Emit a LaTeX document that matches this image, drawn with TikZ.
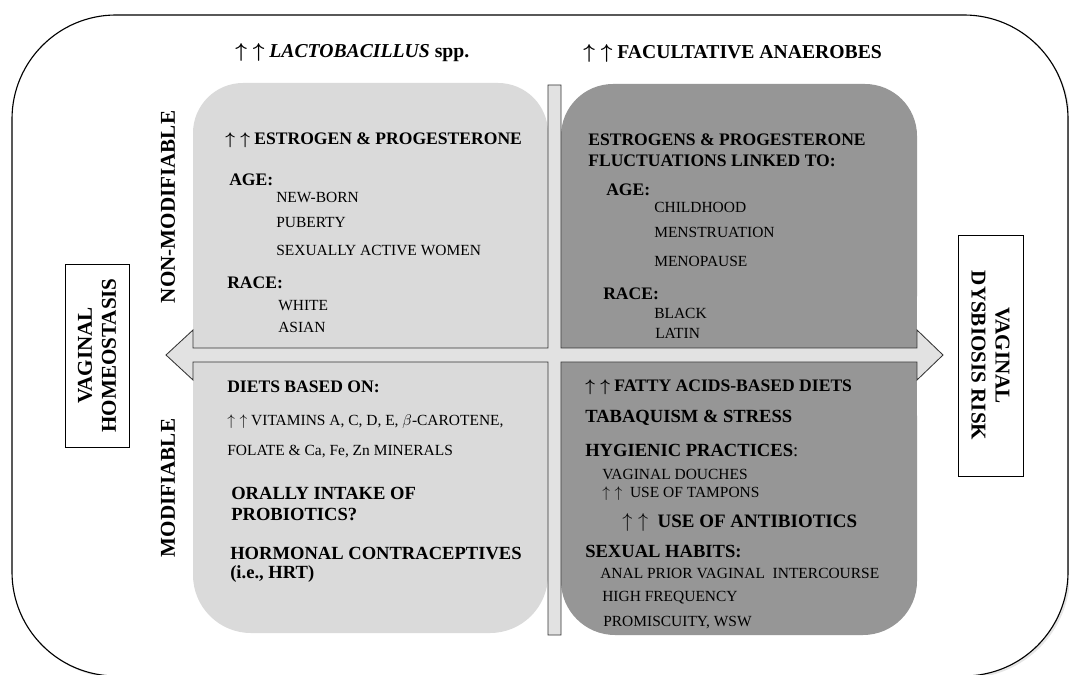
\documentclass[tikz,border=0pt]{standalone}
\usepackage{bm}
\usepackage{fontspec}
\setmainfont{Liberation Serif}
\usepackage{tikz}
\usetikzlibrary{shadows}
\definecolor{lightq}{HTML}{DADADA}
\definecolor{darkq}{HTML}{969696}
\definecolor{crossfill}{HTML}{E2E2E2}
\tikzstyle{frame}=[draw=black,fill=white,line width=0.8pt,rounded corners=2.6cm,drop shadow={opacity=0.2,shadow xshift=1.5pt,shadow yshift=-1.5pt}]
\tikzstyle{cross}=[fill=crossfill,draw=black!80,line width=0.6pt]
\tikzstyle{item}=[anchor=west,inner sep=0pt,font=\fontsize{11}{13}\selectfont]
\tikzstyle{head}=[anchor=west,inner sep=0pt,font=\fontsize{12.5}{14}\selectfont\bfseries]
\tikzstyle{big head}=[head,font=\fontsize{13.2}{15}\selectfont\bfseries]
\tikzstyle{title}=[head,font=\fontsize{14}{16}\selectfont\bfseries]
\tikzstyle{side}=[font=\fontsize{15}{16}\selectfont\bfseries,rotate=90]
\tikzstyle{side box}=[draw,line width=0.6pt,align=center,font=\fontsize{15}{17}\selectfont\bfseries]
\newcommand{\upup}{$\uparrow$\hspace{0.3em}$\uparrow$}
\newcommand{\bupup}{$\bm{\uparrow}$\hspace{0.3em}$\bm{\uparrow}$}

\begin{document}
\begin{tikzpicture}[x=0.025cm,y=-0.025cm]
    \useasboundingbox (0,0) rectangle (1069,675);
    % First we draw the frame and the four quadrants
    \path[frame] (12,15) rectangle (1068,676);
    \fill[lightq,rounded corners=1.25cm] (193,83) rectangle (548,348);
    \fill[lightq] (193,200) rectangle (548,348);
    \fill[darkq,rounded corners=1.3cm] (561,84) rectangle (917,348);
    \fill[darkq] (561,200) rectangle (917,348);
    \fill[lightq,rounded corners=1.45cm] (193,362) rectangle (548,633);
    \fill[lightq] (193,362) rectangle (548,500);
    \fill[darkq,rounded corners=1.35cm] (561,362) rectangle (917,635);
    \fill[darkq] (561,362) rectangle (917,500);

    % The cross with its two arrow heads
    \path[cross] (166,355) -- (193,330) -- (193,348) -- (548,348) -- (548,85) -- (561,85)
        -- (561,348) -- (917,348) -- (917,330) -- (943,355) -- (917,380) -- (917,362)
        -- (561,362) -- (561,635) -- (548,635) -- (548,362) -- (193,362) -- (193,380) -- cycle;

    % Titles and side labels
    \node[title] (lacto) at (235,53) {\bupup\ \textit{LACTOBACILLUS} spp.};
    \node[title] (faculta) at (583,53) {\bupup\ FACULTATIVE ANAEROBES};
    \node[side] (nonmod) at (168,207) {NON-MODIFIABLE};
    \node[side] (mod) at (168,488) {MODIFIABLE};
    \node[side box,rotate=90,minimum width=4.575cm,minimum height=1.6cm] (homeo) at (97,355.5) {VAGINAL\\HOMEOSTASIS};
    \node[side box,rotate=-90,minimum width=6.025cm,minimum height=1.625cm] (dysb) at (990.5,355.5) {VAGINAL\\DYSBIOSIS RISK};

    % Non-modifiable, homeostasis
    \node[head] (estro) at (225,140) {\bupup\ ESTROGEN \& PROGESTERONE};
    \foreach \pos/\name/\txt in {{(229,180)/tlage/AGE:}, {(227,283)/tlrace/RACE:}}
        \node[head] (\name) at \pos {\txt};
    \foreach \pos/\name/\txt in {{(276,197)/newborn/NEW-BORN}, {(276,223)/puberty/PUBERTY},
        {(276,250)/active/SEXUALLY ACTIVE WOMEN}, {(278,306)/white/WHITE}, {(278,327)/asian/ASIAN}}
        \node[item] (\name) at \pos {\txt};

    % Non-modifiable, dysbiosis
    \foreach \pos/\name/\txt in {{(588,140)/fluct1/ESTROGENS \& PROGESTERONE}, {(588,161)/fluct2/FLUCTUATIONS LINKED TO:},
        {(606,190)/trage/AGE:}, {(603,294)/trrace/RACE:}}
        \node[head] (\name) at \pos {\txt};
    \foreach \pos/\name/\txt in {{(654,207)/child/CHILDHOOD}, {(654,232)/menstr/MENSTRUATION},
        {(654,261)/menop/MENOPAUSE}, {(654,313)/black/BLACK}, {(655,333)/latin/LATIN}}
        \node[item] (\name) at \pos {\txt};

    % Modifiable, homeostasis
    \node[head] (diets) at (227,387) {DIETS BASED ON:};
    \node[item] (vitam) at (227,422) {\upup\ VITAMINS A, C, D, E, $\beta$-CAROTENE,};
    \node[item] (folate) at (227,452) {FOLATE \& Ca, Fe, Zn MINERALS};
    \foreach \pos/\name/\txt in {{(231,493)/oral1/ORALLY INTAKE OF}, {(231,514)/oral2/PROBIOTICS?},
        {(230,553)/hormo1/HORMONAL CONTRACEPTIVES}, {(230,574)/hormo2/(i.e., HRT)}}
        \node[big head] (\name) at \pos {\txt};

    % Modifiable, dysbiosis
    \node[head] (fatty) at (585,387) {\bupup\ FATTY ACIDS-BASED DIETS};
    \node[big head] (tabaq) at (585,418) {TABAQUISM \& STRESS};
    \node[big head] (hygien) at (585,450) {HYGIENIC PRACTICES{\mdseries :}};
    \node[item] (douch) at (602,474) {VAGINAL DOUCHES};
    \node[item] (tamp) at (602,494) {\upup\ \ USE OF TAMPONS};
    \node[big head,font=\fontsize{13.5}{15}\selectfont\bfseries] (antib) at (622,522) {\upup\ \ USE OF ANTIBIOTICS};
    \node[big head] (sexual) at (585,551) {SEXUAL HABITS:};
    \foreach \pos/\name/\txt in {{(600,573)/anal/ANAL PRIOR VAGINAL\ \ INTERCOURSE}, {(602,598)/freq/HIGH FREQUENCY},
        {(603,623)/promis/PROMISCUITY, WSW}}
        \node[item] (\name) at \pos {\txt};
\end{tikzpicture}
\end{document}
